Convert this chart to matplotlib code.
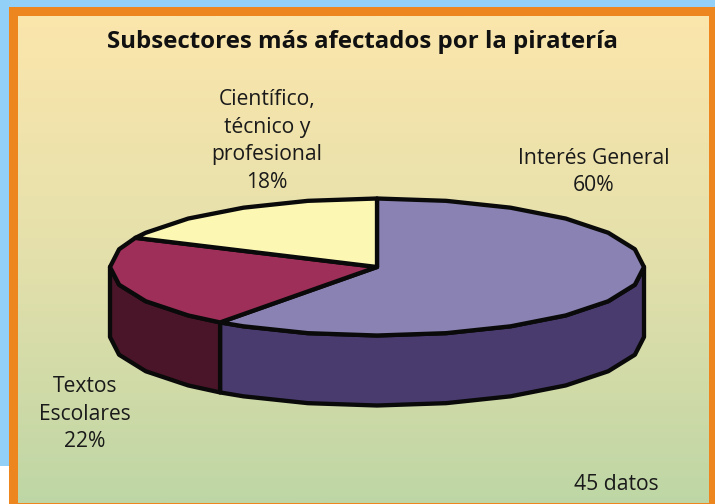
import numpy as np
import matplotlib
matplotlib.use("Agg")
import matplotlib.pyplot as plt
from matplotlib.colors import LinearSegmentedColormap
from matplotlib.patches import Rectangle

title = "Subsectores más afectados por la piratería"
categories = ["Interés General", "Textos\nEscolares", "Científico,\ntécnico y\nprofesional"]
shares = [60, 22, 18]
note = "45 datos"

top_colors = ["#8A82B2", "#9E2F58", "#FCF8B4"]
side_colors = ["#4A3B6E", "#4A1528", None]
label_pos = [(594, 172), (85, 414), (267, 141)]

plt.rcParams["font.family"] = ["Open Sans", "DejaVu Sans"]
fig = plt.figure(figsize=(7.15, 5.04), dpi=100)
ax = fig.add_axes([0, 0, 1, 1])
ax.set_xlim(0, 715)
ax.set_ylim(504, 0)
ax.axis("off")

# page and frame
ax.add_patch(Rectangle((0, 0), 715, 466, fc="#92D0F8", ec="none", zorder=0))
ax.add_patch(Rectangle((9, 7), 706, 497, fc="#EE861F", ec="none", zorder=1))
cmap = LinearSegmentedColormap.from_list("bg", ["#FBE6AC", "#E4E0AB", "#BED6A5"])
ax.imshow(np.linspace(0, 1, 512)[:, None], cmap=cmap, aspect="auto",
          extent=(17.5, 708, 503, 16), zorder=2, interpolation="bilinear")
ax.set_xlim(0, 715)
ax.set_ylim(504, 0)

# 3D pie geometry
cx, cy, rx, ry, depth = 377, 267, 267, 68.5, 70
LW = 3.1
STEP = 15


def arc(a0, a1):
    lo, hi = min(a0, a1), max(a0, a1)
    inner = np.arange(np.ceil(lo / STEP), np.floor(hi / STEP) + 1) * STEP
    t = np.unique(np.r_[lo, inner, hi])
    if a0 > a1:
        t = t[::-1]
    t = np.radians(t)
    return cx + rx * np.cos(t), cy - ry * np.sin(t)


edges = 90 - np.cumsum([0] + shares) * 3.6
kw = dict(edgecolor="#0A0A0A", linewidth=LW, joinstyle="round")

# side walls, back to front
for i, (a0, a1) in enumerate(zip(edges[:-1], edges[1:])):
    if side_colors[i] is None:
        continue
    lo, hi = max(a1, -180), min(a0, 0)
    x, y = arc(lo, hi)
    ax.fill(np.r_[x, x[::-1]], np.r_[y, y[::-1] + depth],
            facecolor=side_colors[i], zorder=3, **kw)

# top faces
for i, (a0, a1) in enumerate(zip(edges[:-1], edges[1:])):
    x, y = arc(a0, a1)
    ax.fill(np.r_[cx, x], np.r_[cy, y], facecolor=top_colors[i], zorder=4, **kw)

ax.text(362, 42, title, ha="center", va="center", fontsize=17.3,
        fontweight="bold", color="#111111", zorder=5)
for (lx, ly), cat, s in zip(label_pos, categories, shares):
    ax.text(lx, ly, f"{cat}\n{s}%", ha="center", va="center", fontsize=15.2,
            color="#1A1A1A", linespacing=1.43, zorder=5)
ax.text(616, 485, note, ha="center", va="center", fontsize=15.2,
        color="#1A1A1A", zorder=5)

fig.savefig("out.png", dpi=100)
